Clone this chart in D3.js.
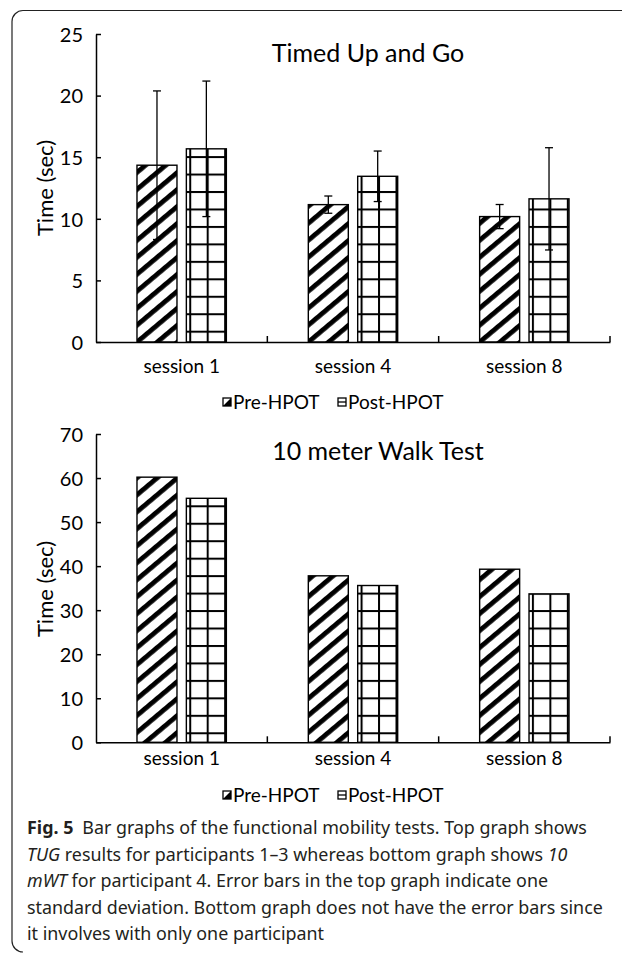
<!DOCTYPE html>
<html>
<head>
<meta charset="utf-8">
<script src="https://cdn.jsdelivr.net/npm/d3@7"></script>
<style>
  html, body { margin: 0; padding: 0; background: #fff; }
  svg { display: block; }
  .chart text { font-family: Lato, "Open Sans", sans-serif; fill: #000; }
  .caption { font-family: "Noto Sans", sans-serif; fill: #231f20; }
</style>
</head>
<body>
<svg id="fig" width="622" height="953"></svg>
<script>
// Datos
const sessions = ['session 1', 'session 4', 'session 8'];
const seriesNames = ['Pre-HPOT', 'Post-HPOT'];

// Timed Up and Go (media y desviacion estandar)
const tugPre = [14.35, 11.15, 10.18];
const tugPost = [15.68, 13.45, 11.62];
const tugPreSd = [6.03, 0.7, 0.98];
const tugPostSd = [5.5, 2.05, 4.15];
const tugTicks = [0, 5, 10, 15, 20, 25];

// 10 meter Walk Test (un participante, sin barras de error)
const walkPre = [60.2, 37.8, 39.3];
const walkPost = [55.4, 35.6, 33.7];
const walkTicks = [0, 10, 20, 30, 40, 50, 60, 70];

const captionLines = [
  [{ t: 'Fig. 5', w: 'bold' }, { t: '\u2002Bar graphs of the functional mobility tests. Top graph shows' }],
  [{ t: 'TUG', s: 'italic' }, { t: ' results for participants 1\u20133 whereas bottom graph shows ' }, { t: '10', s: 'italic' }],
  [{ t: 'mWT', s: 'italic' }, { t: ' for participant 4. Error bars in the top graph indicate one' }],
  [{ t: 'standard deviation. Bottom graph does not have the error bars since' }],
  [{ t: 'it involves with only one participant' }]
];

const svg = d3.select('#fig');
svg.append('rect').attr('width', 622).attr('height', 953).attr('fill', '#fff');

// Patrones de relleno
const defs = svg.append('defs');
const stripes = defs.append('pattern')
  .attr('id', 'stripes')
  .attr('patternUnits', 'userSpaceOnUse')
  .attr('width', 13).attr('height', 13)
  .attr('patternTransform', 'rotate(-40)');
stripes.append('rect').attr('width', 13).attr('height', 13).attr('fill', '#fff');
stripes.append('rect').attr('y', 0).attr('width', 13).attr('height', 4.8).attr('fill', '#000');

const cell = 17.46;
const grid = defs.append('pattern')
  .attr('id', 'grid')
  .attr('patternUnits', 'userSpaceOnUse')
  .attr('x', 5.94).attr('y', 16.42)
  .attr('width', cell).attr('height', cell);
grid.append('rect').attr('width', cell).attr('height', cell).attr('fill', '#fff');
grid.append('rect').attr('width', 2).attr('height', cell).attr('fill', '#000');
grid.append('rect').attr('width', cell).attr('height', 2).attr('fill', '#000');

// Marco redondeado
svg.append('path')
  .attr('d', 'M622,10.5 H23 A11,11 0 0 0 12,21.5 V941 A11,11 0 0 0 23,952')
  .attr('fill', 'none')
  .attr('stroke', '#222')
  .attr('stroke-width', 1.2);

function drawChart(cfg) {
  const g = svg.append('g').attr('class', 'chart');

  const x = d3.scaleBand().domain(sessions).range([96, 610]);
  const xs = d3.scaleBand().domain(seriesNames).range([0, x.bandwidth()])
    .paddingInner(0.19).paddingOuter(0.83);
  const y = d3.scaleLinear().domain([0, d3.max(cfg.ticks)]).range([cfg.y0, cfg.y1]);

  const rows = sessions.map((s, i) => ({
    session: s,
    values: [
      { name: seriesNames[0], v: cfg.pre[i], sd: cfg.preSd ? cfg.preSd[i] : null, fill: 'url(#stripes)' },
      { name: seriesNames[1], v: cfg.post[i], sd: cfg.postSd ? cfg.postSd[i] : null, fill: 'url(#grid)' }
    ]
  }));

  const groups = g.selectAll('.session')
    .data(rows)
    .enter()
    .append('g')
    .attr('class', 'session')
    .attr('transform', d => `translate(${x(d.session)},0)`);

  groups.selectAll('rect')
    .data(d => d.values)
    .enter()
    .append('rect')
    .attr('x', d => xs(d.name))
    .attr('y', d => y(d.v))
    .attr('width', xs.bandwidth())
    .attr('height', d => y(0) - y(d.v))
    .attr('fill', d => d.fill)
    .attr('stroke', '#000')
    .attr('stroke-width', 1.4);

  // Barras de error
  const err = groups.selectAll('.err')
    .data(d => d.values.filter(v => v.sd !== null))
    .enter()
    .append('g')
    .attr('class', 'err')
    .attr('stroke', '#000')
    .attr('stroke-width', 1.3);
  err.append('line')
    .attr('x1', d => xs(d.name) + xs.bandwidth() / 2)
    .attr('x2', d => xs(d.name) + xs.bandwidth() / 2)
    .attr('y1', d => y(d.v - d.sd))
    .attr('y2', d => y(d.v + d.sd));
  err.selectAll('.cap')
    .data(d => [d.v - d.sd, d.v + d.sd].map(e => ({ name: d.name, e: e })))
    .enter()
    .append('line')
    .attr('x1', d => xs(d.name) + xs.bandwidth() / 2 - 4)
    .attr('x2', d => xs(d.name) + xs.bandwidth() / 2 + 4)
    .attr('y1', d => y(d.e))
    .attr('y2', d => y(d.e));

  // Eje Y
  const yAxis = g.append('g')
    .attr('transform', 'translate(96,0)')
    .call(d3.axisLeft(y).tickValues(cfg.ticks).tickSizeInner(-5).tickSizeOuter(0).tickPadding(13));
  yAxis.attr('font-family', null).attr('font-size', cfg.tickSize);
  yAxis.selectAll('path, line').attr('stroke', '#000').attr('stroke-width', 1.5);
  yAxis.selectAll('text').attr('dy', '0.36em');

  // Eje X
  const xAxis = g.append('g')
    .attr('transform', `translate(0,${cfg.y0})`)
    .call(d3.axisBottom(x).tickSizeInner(0).tickSizeOuter(0).tickPadding(cfg.labelPad));
  xAxis.attr('font-family', null).attr('font-size', cfg.catSize);
  xAxis.select('.domain').attr('stroke', '#000').attr('stroke-width', 1.5);
  xAxis.selectAll('text').attr('dy', 0);

  const bounds = sessions.map(s => x(s) + x.bandwidth());
  xAxis.selectAll('.bound')
    .data(bounds)
    .enter()
    .append('line')
    .attr('class', 'bound')
    .attr('x1', d => d).attr('x2', d => d)
    .attr('y1', 0).attr('y2', -6)
    .attr('stroke', '#000')
    .attr('stroke-width', 1.5);

  // Titulo y etiqueta del eje
  g.append('text')
    .attr('x', cfg.titleX)
    .attr('y', cfg.titleY)
    .attr('text-anchor', 'middle')
    .attr('font-size', cfg.titleSize)
    .text(cfg.title);

  g.append('text')
    .attr('transform', `translate(53,${cfg.labelMid}) rotate(-90)`)
    .attr('text-anchor', 'middle')
    .attr('font-size', cfg.axisLabelSize)
    .text('Time (sec)');

  // Leyenda
  const leg = g.append('g').attr('transform', `translate(0,${cfg.legendY})`);
  const legX = [223, 338];
  leg.selectAll('text')
    .data(seriesNames)
    .enter()
    .append('text')
    .attr('x', (d, i) => legX[i] + 10)
    .attr('y', 0)
    .attr('font-size', cfg.legendSize)
    .text(d => d);
  // icono Pre
  leg.append('rect').attr('x', legX[0]).attr('y', -11).attr('width', 8).attr('height', 8)
    .attr('fill', '#fff').attr('stroke', '#000').attr('stroke-width', 1.3);
  leg.append('path').attr('d', `M${legX[0] + 8},-11 V-3 H${legX[0]} Z`).attr('fill', '#000');
  // icono Post
  leg.append('rect').attr('x', legX[1]).attr('y', -11).attr('width', 8).attr('height', 8)
    .attr('fill', '#fff').attr('stroke', '#000').attr('stroke-width', 1.3);
  leg.append('line').attr('x1', legX[1]).attr('x2', legX[1] + 8).attr('y1', -7).attr('y2', -7)
    .attr('stroke', '#000').attr('stroke-width', 1.3);
}

drawChart({
  title: 'Timed Up and Go', titleX: 368, titleY: 62,
  pre: tugPre, post: tugPost, preSd: tugPreSd, postSd: tugPostSd,
  ticks: tugTicks, y0: 342, y1: 34, labelMid: 188, labelPad: 31,
  legendY: 409,
  titleSize: 25, tickSize: 20, catSize: 19, axisLabelSize: 22, legendSize: 19
});

drawChart({
  title: '10 meter Walk Test', titleX: 378, titleY: 460,
  pre: walkPre, post: walkPost, preSd: null, postSd: null,
  ticks: walkTicks, y0: 742.3, y1: 434, labelMid: 589, labelPad: 22.7,
  legendY: 802,
  titleSize: 25, tickSize: 20, catSize: 19, axisLabelSize: 22, legendSize: 19
});

// Pie de figura
const cap = svg.append('g').attr('class', 'caption');
const capTexts = cap.selectAll('text')
  .data(captionLines)
  .enter()
  .append('text')
  .attr('x', 27)
  .attr('y', (d, i) => 834 + i * 26.5)
  .attr('font-size', 17);
capTexts.selectAll('tspan')
  .data(d => d)
  .enter()
  .append('tspan')
  .attr('font-weight', d => d.w || null)
  .attr('font-style', d => d.s || null)
  .text(d => d.t);

// ajustar el tamano para que la linea 4 ocupe el ancho del original
const natural = capTexts.filter((d, i) => i === 3).node().getComputedTextLength();
capTexts.attr('font-size', 17 * 576 / natural);
</script>
</body>
</html>
